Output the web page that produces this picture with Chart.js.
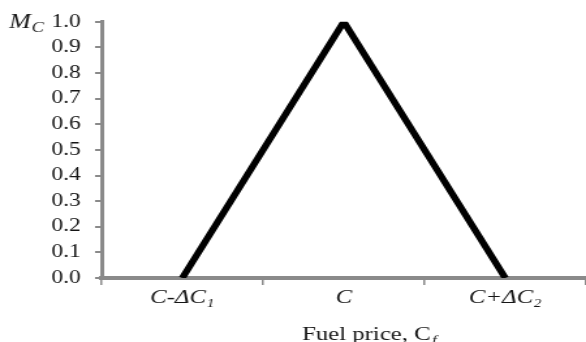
<!DOCTYPE html>
<html><head><meta charset="utf-8">
<script src="https://cdn.jsdelivr.net/npm/chart.js@4/dist/chart.umd.min.js"></script>
<style>html,body{margin:0;padding:0;background:#fff;overflow:hidden;width:586px;height:342px}#c{width:586px;height:342px;display:block}</style>
</head><body><canvas id="c" width="450" height="342" style="width:586px;height:342px"></canvas>
<script>
const categories = ['C-ΔC₁', 'C', 'C+ΔC₂'];
const membership = [0, 1, 0];
const yTicks = [0,0.1,0.2,0.3,0.4,0.5,0.6,0.7,0.8,0.9,1.0];
const xTitle = 'Fuel price, C';
const xTitleSub = 'f';
const yTitle = 'M';
const yTitleSub = 'C';

const serif = "'Liberation Serif','Times New Roman',serif";
const gray = '#8a8a8a';
const ink = '#151515';

const titlePlugin = {
  id: 'customTitles',
  afterDraw(chart) {
    const ctx = chart.ctx;
    ctx.save();
    ctx.fillStyle = ink;
    ctx.textBaseline = 'alphabetic';
    ctx.textAlign = 'left';
    // y title
    ctx.font = 'italic 20px ' + serif;
    ctx.fillText(yTitle, 7, 28);
    const mw = ctx.measureText(yTitle).width;
    ctx.font = 'italic 14px ' + serif;
    ctx.fillText(yTitleSub, 7 + mw + 0.5, 32);
    // x title
    ctx.font = '19px ' + serif;
    ctx.fillText(xTitle, 232, 340);
    const tw = ctx.measureText(xTitle).width;
    ctx.font = 'italic 13px ' + serif;
    ctx.fillText(xTitleSub, 232 + tw + 1, 344);
    ctx.restore();
  }
};

new Chart(document.getElementById('c'), {
  type: 'line',
  data: {
    labels: categories,
    datasets: [{
      data: membership,
      borderColor: '#000',
      borderWidth: 5.5,
      pointRadius: 0,
      tension: 0,
      fill: false,
      borderCapStyle: 'butt',
      borderJoinStyle: 'miter'
    }]
  },
  options: {
    responsive: false,
    animation: false,
    layout: { padding: { top: 18, left: 0, right: 0, bottom: 0 } },
    plugins: { legend: { display: false }, tooltip: { enabled: false } },
    scales: {
      x: {
        offset: true,
        afterFit(scale) { scale.height = 64; },
        grid: { offset: true, drawOnChartArea: false, drawTicks: true, tickLength: 7, color: gray, lineWidth: 1.5 },
        border: { color: gray, width: 4 },
        ticks: { color: ink, font: { family: serif, size: 19, style: 'italic' }, padding: 2, maxRotation: 0 }
      },
      y: {
        min: 0, max: 1,
        afterFit(scale) { scale.width = 78; },
        afterBuildTicks(scale) { scale.ticks = yTicks.map(v => ({ value: v })); },
        grid: { drawOnChartArea: false, drawTicks: true, tickLength: 5, color: gray, lineWidth: 2 },
        border: { color: gray, width: 3 },
        ticks: { color: ink, font: { family: serif, size: 18 }, padding: 11, callback: v => Number(v).toFixed(1) }
      }
    }
  },
  plugins: [titlePlugin]
});
</script></body></html>
